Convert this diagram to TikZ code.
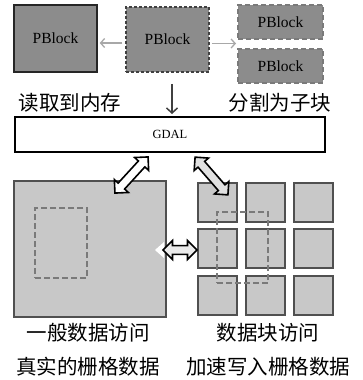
\documentclass[tikz,border=0pt]{standalone}
\usepackage{fontspec}
\setmainfont{Liberation Serif}
\newfontfamily\cjk{Noto Sans CJK SC}
\usetikzlibrary{shapes.arrows,arrows.meta}
\definecolor{darkfill}{HTML}{8C8C8C}
\definecolor{lightfill}{HTML}{C8C8C8}
\definecolor{edgegray}{HTML}{505050}
\definecolor{dashgray}{HTML}{7A7A7A}
\definecolor{arrgray}{HTML}{A8A8A8}
\tikzset{
  pb/.style={fill=darkfill, minimum width=#1, inner sep=0pt, font=\fontsize{15.5}{18}\selectfont},
  solidpb/.style={pb=83pt, draw=black!85, line width=1.5pt, minimum height=67pt},
  dashpb/.style={pb=83pt, draw=black!75, line width=1.5pt, dash pattern=on 3pt off 2pt, minimum height=65pt},
  splitpb/.style={pb=85pt, draw=dashgray, line width=2.5pt, dash pattern=on 5pt off 3pt, minimum height=34pt},
  cell/.style={fill=lightfill, draw=edgegray, line width=1.5pt, minimum width=39pt, minimum height=39pt, inner sep=0pt},
  dashbox/.style={draw=dashgray, line width=2.2pt, dash pattern=on 6pt off 3pt, inner sep=0pt},
  lbl/.style={font=\cjk\fontsize{20.5}{24}\selectfont, inner sep=0pt},
  fat/.style={shape=double arrow, draw=black, line width=1.6pt, inner sep=3.5pt, minimum width=19pt, double arrow head extend=5pt},
  grayarr/.style={draw=arrgray, line width=1.3pt, -{Straight Barb[length=4pt,width=9pt]}},
  downarr/.style={draw=black!75, line width=1.5pt, -{Straight Barb[length=5pt,width=11pt]}}
}
\begin{document}
\begin{tikzpicture}[x=1pt,y=-1pt]
\useasboundingbox[fill=white] (0,0) rectangle (363,380);
% top blocks
\node[solidpb] (left) at (55.5,38.5) {PBlock};
\node[dashpb] (mid) at (167.5,39.5) {PBlock};
\node[splitpb] (rt) at (280.5,22) {PBlock};
\node[splitpb] (rb) at (280.5,66) {PBlock};
\coordinate (split) at (236,43.5);
\draw[grayarr] ([yshift=-3.5pt,xshift=-3pt]mid.west) -- ([yshift=-4.5pt,xshift=2pt]left.east);
\draw[grayarr] ([yshift=-4pt,xshift=2pt]mid.east) -- (split);
% labels
\node[lbl] (read) at (70,103) {读取到内存};
\node[lbl] (splt) at (280,103) {分割为子块};
% GDAL
\node[draw=black, line width=2pt, fill=white, minimum width=310pt, minimum height=35pt, inner sep=0pt, font=\fontsize{12.5}{14}\selectfont] (gdal) at (170,134.5) {GDAL};
\draw[downarr] ([xshift=4.5pt,yshift=-11pt]mid.south) -- ([xshift=2pt,yshift=2pt]gdal.north);
% big raster
\node[fill=lightfill, draw=edgegray, line width=1.5pt, minimum width=152pt, minimum height=136pt, inner sep=0pt] (big) at (90,249) {};
\node[dashbox, minimum width=52pt, minimum height=70pt] (win) at (61,243) {};
% grid
\foreach \c/\x in {1/217.5,2/265.5,3/313.5}{
  \foreach \r/\y in {1/202.5,2/248.5,3/295.5}{
    \node[cell] (c\r\c) at (\x,\y) {};
  }
}
\node[dashbox, minimum width=51pt, minimum height=71pt] (gwin) at (242.5,247.5) {};
% fat double arrows
\fill[white] (155,250) -- (164,242) -- (164,258) -- cycle;
\node[fat, fill=white, minimum height=49pt, rotate=47.5] (a1) at (131.5,175) {};
\node[fat, fill=black!12, minimum height=50pt, rotate=-49] (a2) at (211.5,176) {};
\node[fat, fill=black!8, minimum height=34pt] (a3) at (180,250) {};
% bottom labels
\node[lbl] (l1) at (88,333) {一般数据访问};
\node[lbl] (l2) at (268,333) {数据块访问};
\node[lbl] (l3) at (88,367) {真实的栅格数据};
\node[lbl] (l4) at (268,367) {加速写入栅格数据};
\end{tikzpicture}
\end{document}
